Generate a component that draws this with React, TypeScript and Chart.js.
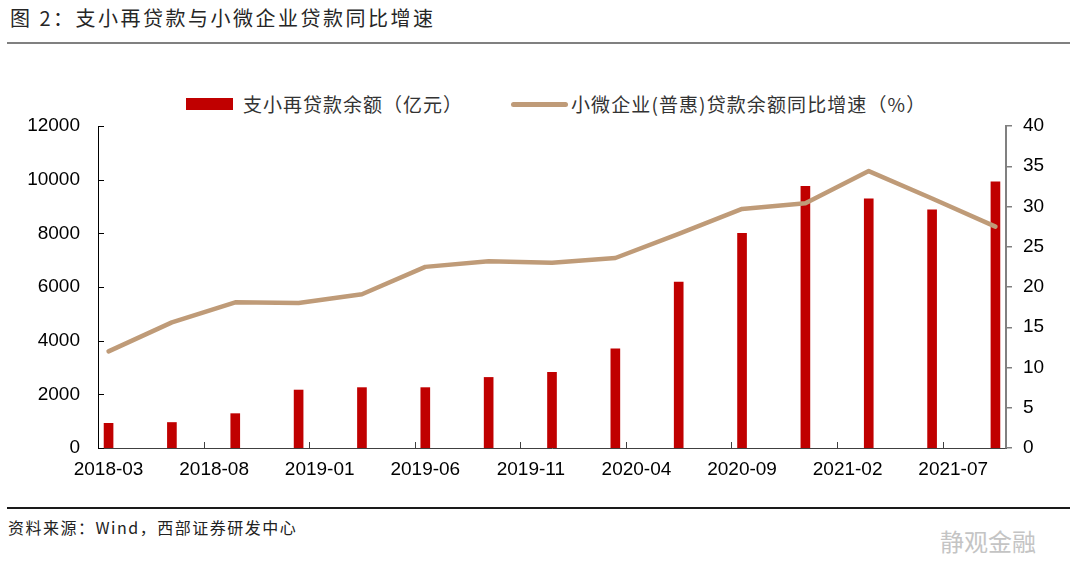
import React, { useEffect, useRef } from 'react';
import { Chart, registerables } from 'chart.js';

Chart.register(...registerables);

// ---- data ----
const firstMonth = '2018-03';
const lastMonth = '2021-09';
const labelEvery = 5; // x labels: 2018-03, 2018-08, ...
const quarters = [
  '2018-03', '2018-06', '2018-09', '2018-12',
  '2019-03', '2019-06', '2019-09', '2019-12',
  '2020-03', '2020-06', '2020-09', '2020-12',
  '2021-03', '2021-06', '2021-09',
];
const relendingBalance = [920, 950, 1280, 2160, 2250, 2250, 2630, 2820, 3700, 6180, 8000, 9750, 9290, 8880, 9920];
const smeLoanGrowth = [12.0, 15.6, 18.1, 18.0, 19.1, 22.5, 23.2, 23.0, 23.6, 26.6, 29.7, 30.4, 34.4, 31.0, 27.5];
const leftAxisMax = 12000;
const leftAxisStep = 2000;
const rightAxisMax = 40;
const rightAxisStep = 5;

const titleText = '图 2：支小再贷款与小微企业贷款同比增速';
const barLabel = '支小再贷款余额（亿元）';
const lineLabel = '小微企业(普惠)贷款余额同比增速（%）';
const sourceText = '资料来源：Wind，西部证券研发中心';
const watermarkText = '静观金融';

const BAR_COLOR = '#C00000';
const LINE_COLOR = '#BF9B78';

function buildMonths(start: string, end: string): string[] {
  const out: string[] = [];
  let [y, m] = start.split('-').map(Number);
  const [ey, em] = end.split('-').map(Number);
  while (y < ey || (y === ey && m <= em)) {
    out.push(`${y}-${String(m).padStart(2, '0')}`);
    m += 1;
    if (m > 12) { m = 1; y += 1; }
  }
  return out;
}
const months = buildMonths(firstMonth, lastMonth);

const tickFont = { family: '"Liberation Sans", Arial, sans-serif', size: 19 };

const innerTicksPlugin = {
  id: 'innerTicks',
  afterDatasetsDraw(chart: any) {
    const { ctx, chartArea, scales } = chart;
    const x = scales.x;
    const y = scales.y;
    ctx.save();
    ctx.lineWidth = 1;
    // x-axis tick marks at category boundaries, pointing inward
    ctx.strokeStyle = '#404040';
    for (let i = labelEvery; i < months.length; i += labelEvery) {
      const px = (x.getPixelForValue(i - 1) + x.getPixelForValue(i)) / 2;
      const xx = Math.round(px) + 0.5;
      ctx.beginPath();
      ctx.moveTo(xx, chartArea.bottom);
      ctx.lineTo(xx, chartArea.bottom - 6);
      ctx.stroke();
    }
    // left y-axis tick marks pointing inward
    ctx.strokeStyle = '#000000';
    y.ticks.forEach((t: any) => {
      const py = Math.round(y.getPixelForValue(t.value)) + 0.5;
      ctx.beginPath();
      ctx.moveTo(chartArea.left, py);
      ctx.lineTo(chartArea.left + 6, py);
      ctx.stroke();
    });
    ctx.restore();
  },
};

function ChartView() {
  const canvasRef = useRef<HTMLCanvasElement | null>(null);

  useEffect(() => {
    if (!canvasRef.current) return;
    const chart = new Chart(canvasRef.current, {
      type: 'bar',
      data: {
        labels: months,
        datasets: [
          {
            type: 'line',
            label: lineLabel,
            data: quarters.map((q, i) => ({ x: q, y: smeLoanGrowth[i] })) as any,
            yAxisID: 'y1',
            borderColor: LINE_COLOR,
            backgroundColor: LINE_COLOR,
            borderWidth: 4.5,
            pointRadius: 0,
            tension: 0,
            borderCapStyle: 'round',
            borderJoinStyle: 'round',
            spanGaps: true,
            order: 0,
          } as any,
          {
            type: 'bar',
            label: barLabel,
            data: quarters.map((q, i) => ({ x: q, y: relendingBalance[i] })) as any,
            yAxisID: 'y',
            backgroundColor: BAR_COLOR,
            barThickness: 9,
            order: 1,
          } as any,
        ],
      },
      options: {
        responsive: false,
        animation: false,
        layout: { padding: { top: 66, left: 0, right: 0, bottom: 0 } },
        plugins: {
          legend: { display: false },
          tooltip: { enabled: false },
        },
        scales: {
          x: {
            type: 'category',
            offset: true,
            grid: { display: false, drawTicks: false },
            border: { display: true, color: '#404040', width: 1 },
            ticks: {
              autoSkip: false,
              maxRotation: 0,
              minRotation: 0,
              padding: 10,
              color: '#000000',
              font: tickFont,
              callback: (_v: any, i: number) => (i % labelEvery === 0 ? months[i] : ''),
            },
            afterFit: (s: any) => { s.height = 52; },
          },
          y: {
            type: 'linear',
            position: 'left',
            min: 0,
            max: leftAxisMax,
            grid: { display: false, drawTicks: false },
            border: { display: true, color: '#000000', width: 1 },
            ticks: {
              stepSize: leftAxisStep,
              padding: 18,
              color: '#000000',
              font: tickFont,
              callback: (v: any) => String(v),
            },
            afterFit: (s: any) => { s.width = 98; },
          },
          y1: {
            type: 'linear',
            position: 'right',
            min: 0,
            max: rightAxisMax,
            grid: { display: true, drawOnChartArea: false, drawTicks: true, tickLength: 6, color: '#808080', lineWidth: 1.5 },
            border: { display: true, color: '#808080', width: 2 },
            ticks: {
              stepSize: rightAxisStep,
              padding: 11,
              color: '#000000',
              font: tickFont,
              callback: (v: any) => String(v),
            },
            afterFit: (s: any) => { s.width = 74; },
          },
        },
      } as any,
      plugins: [innerTicksPlugin],
    });
    return () => chart.destroy();
  }, []);

  return (
    <canvas
      ref={canvasRef}
      width={1080}
      height={440}
      style={{ position: 'absolute', left: 0, top: 60, width: 1080, height: 440 }}
    />
  );
}

const cjk = '"Noto Sans CJK SC", "Noto Sans", sans-serif';

export default function App() {
  return (
    <div
      style={{
        position: 'absolute',
        left: 0,
        top: 0,
        width: 1080,
        height: 585,
        background: '#ffffff',
        overflow: 'hidden',
        fontFamily: cjk,
      }}
    >
      <div style={{ position: 'absolute', left: 10, top: 5, height: 26, lineHeight: '26px', fontSize: 20, color: '#262626', whiteSpace: 'nowrap', letterSpacing: 2.5 }}>
        {titleText}
      </div>
      <div style={{ position: 'absolute', left: 7, top: 42, width: 1063, height: 2, background: '#808080' }} />

      {/* legend */}
      <div style={{ position: 'absolute', left: 186, top: 98, width: 47, height: 12, background: BAR_COLOR }} />
      <div style={{ position: 'absolute', left: 243, top: 92, height: 24, lineHeight: '24px', fontSize: 19, color: '#333333', whiteSpace: 'nowrap', letterSpacing: 1 }}>
        {barLabel}
      </div>
      <div style={{ position: 'absolute', left: 511, top: 102, width: 57, height: 5, borderRadius: 3, background: LINE_COLOR }} />
      <div style={{ position: 'absolute', left: 571, top: 92, height: 24, lineHeight: '24px', fontSize: 19, color: '#333333', whiteSpace: 'nowrap', letterSpacing: 1.1 }}>
        {lineLabel}
      </div>

      <ChartView />

      <div style={{ position: 'absolute', left: 7, top: 507, width: 1063, height: 2, background: '#1a1a1a' }} />
      <div style={{ position: 'absolute', left: 8, top: 516, height: 22, lineHeight: '22px', fontSize: 16, color: '#222222', whiteSpace: 'nowrap', letterSpacing: 1.5 }}>
        {sourceText}
      </div>
      <div style={{ position: 'absolute', left: 940, top: 526, height: 30, lineHeight: '30px', fontSize: 24, color: '#c4c4c4', whiteSpace: 'nowrap' }}>
        {watermarkText}
      </div>
    </div>
  );
}
